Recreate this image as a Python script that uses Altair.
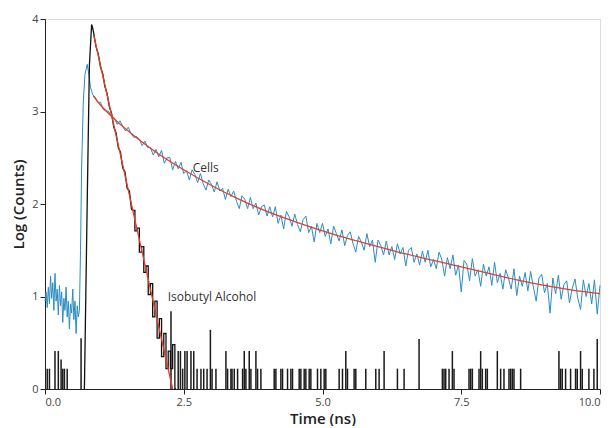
import altair as alt
import pandas as pd

# ---------------- data ----------------
# Cells (blue trace): pre-pulse baseline, rise and peak
cells_t_pre = [0.00, 0.02, 0.04, 0.06, 0.08, 0.10, 0.12, 0.14, 0.16, 0.18, 0.20, 0.22, 0.24, 0.26, 0.28, 0.30,
               0.32, 0.34, 0.36, 0.38, 0.40, 0.42, 0.44, 0.46, 0.48, 0.50, 0.52, 0.54, 0.56, 0.58, 0.60, 0.62,
               0.64, 0.66, 0.69, 0.72, 0.76, 0.79, 0.82, 0.86]
cells_y_pre = [0.95, 1.05, 0.88, 1.10, 0.92, 1.22, 0.98, 1.15, 0.85, 1.25, 0.95, 1.08, 0.80, 1.12, 0.90, 1.05,
               0.72, 0.98, 0.85, 1.10, 0.78, 0.95, 0.65, 0.92, 0.82, 1.08, 0.75, 0.95, 0.60, 0.90, 0.78, 0.85,
               1.50, 2.40, 3.10, 3.40, 3.51, 3.40, 3.26, 3.18]
# Cells decay, sampled every 0.05 ns from 0.90 ns to 10.00 ns
cells_t0 = 0.90
cells_dt = 0.05
cells_y_decay = [
    # 0.90 - 2.00
    3.16, 3.10, 3.10, 3.02, 3.01, 3.00, 2.94, 2.93, 2.86, 2.90, 2.84, 2.79, 2.83, 2.76, 2.72, 2.73,
    2.70, 2.63, 2.68, 2.61, 2.61, 2.53, 2.59,
    # 2.05 - 4.00
    2.51, 2.58, 2.44, 2.50, 2.50, 2.37, 2.46, 2.38, 2.45, 2.33, 2.36, 2.26, 2.37, 2.32, 2.23, 2.33,
    2.22, 2.15, 2.26, 2.21, 2.13, 2.24, 2.14, 2.17, 2.05, 2.16, 2.08, 2.14, 2.03, 1.95, 2.09, 2.05,
    1.95, 2.07, 1.95, 2.01, 1.88, 1.97, 1.99, 1.87,
    # 4.05 - 7.00
    1.97, 1.86, 1.97, 1.79, 1.88, 1.73, 1.92, 1.86, 1.76, 1.89, 1.78, 1.70, 1.83, 1.87, 1.69, 1.76,
    1.59, 1.79, 1.69, 1.79, 1.65, 1.73, 1.57, 1.76, 1.68, 1.60, 1.72, 1.55, 1.66, 1.70, 1.57, 1.48,
    1.65, 1.59, 1.50, 1.68, 1.54, 1.61, 1.37, 1.61, 1.55, 1.45, 1.60, 1.45, 1.54, 1.40, 1.57, 1.46,
    1.53, 1.33, 1.50, 1.53, 1.37, 1.46, 1.34, 1.49, 1.37, 1.50, 1.32, 1.40,
    # 7.05 - 10.00
    1.30, 1.48, 1.40, 1.22, 1.42, 1.30, 1.45, 1.23, 1.34, 1.05, 1.39, 1.35, 1.17, 1.41, 1.22, 1.29,
    1.11, 1.35, 1.22, 1.32, 1.12, 1.37, 1.15, 1.25, 1.08, 1.29, 1.20, 1.08, 1.30, 1.01, 1.22, 1.11,
    1.26, 1.06, 1.27, 1.10, 0.95, 1.20, 1.24, 1.04, 1.14, 0.82, 1.20, 1.03, 1.23, 0.97, 1.13, 1.17,
    0.93, 1.09, 1.19, 0.98, 0.86, 1.18, 1.00, 1.14, 0.92, 1.18, 0.81, 1.12]

# Cells fit (red)
cells_fit_t = [0.87, 1.0, 1.25, 1.5, 1.75, 2.0, 2.5, 3.0, 3.5, 4.0, 4.5, 5.0, 5.5, 6.0, 6.5, 7.0, 7.5, 8.0,
               8.5, 9.0, 9.5, 10.0]
cells_fit_y = [3.17, 3.07, 2.92, 2.79, 2.67, 2.56, 2.37, 2.20, 2.05, 1.92, 1.81, 1.71, 1.62, 1.54, 1.46, 1.39,
               1.32, 1.25, 1.18, 1.12, 1.07, 1.03]

# Isobutyl alcohol (black trace) – pulse and decay
alc_t = [0.71, 0.76, 0.80, 0.84, 0.86, 0.88, 0.92, 0.96, 1.00, 1.04, 1.08, 1.12, 1.16, 1.20, 1.24, 1.28,
         1.32, 1.36, 1.40, 1.44, 1.48, 1.52, 1.56, 1.60, 1.64, 1.68, 1.72, 1.76, 1.80, 1.84, 1.88, 1.92,
         1.96, 2.00, 2.04, 2.08, 2.12, 2.16, 2.20, 2.24, 2.28, 2.32, 2.36]
alc_y = [0.00, 2.00, 3.50, 3.94, 3.90, 3.84, 3.70, 3.62, 3.48, 3.41, 3.27, 3.19, 3.05, 2.98, 2.83, 2.77,
         2.61, 2.56, 2.39, 2.35, 2.17, 2.14, 1.94, 1.93, 1.71, 1.74, 1.48, 1.54, 1.26, 1.33, 1.02, 1.14,
         0.78, 0.95, 0.55, 0.76, 0.35, 0.60, 0.22, 0.41, 0.22, 0.48, 0.00]
alc_step_from = 1.60   # the histogram steps become visible below this time

# Isobutyl alcohol fit (red)
alc_fit_t = [0.88, 2.30]
alc_fit_y = [3.82, 0.00]

# Single-count spikes of the black trace along the baseline
spike_t = [0.04, 0.08, 0.18, 0.24, 0.29, 0.32, 0.35, 0.40, 0.65,
           2.27, 2.40, 2.44, 2.48, 2.52, 2.56, 2.63, 2.68, 2.74, 2.81, 2.86, 2.92, 2.98, 3.01, 3.08, 3.26,
           3.29, 3.35, 3.37, 3.41, 3.47, 3.56, 3.59, 3.62, 3.68, 3.71, 3.80, 3.83, 3.89, 4.13, 4.16, 4.25,
           4.28, 4.37, 4.43, 4.46, 4.58, 4.61, 4.67, 4.70, 4.76, 4.79, 4.91, 4.97, 5.03, 5.06, 5.30, 5.36,
           5.42, 5.45, 5.57, 5.60, 5.78, 5.96, 6.02, 6.11, 6.35, 6.47, 6.74, 7.16, 7.19, 7.22, 7.28, 7.34,
           7.37, 7.64, 7.67, 7.70, 7.82, 7.85, 7.88, 7.94, 7.97, 8.15, 8.21, 8.27, 8.36, 8.39, 8.42, 8.45,
           8.57, 9.26, 9.29, 9.32, 9.38, 9.47, 9.56, 9.59, 9.65, 9.68, 9.80, 9.89, 9.95]
spike_h = [0.22, 0.22, 0.41, 0.41, 0.32, 0.22, 0.22, 0.22, 0.55,
           0.84, 0.41, 0.41, 0.22, 0.41, 0.41, 0.41, 0.41, 0.22, 0.22, 0.22, 0.22, 0.64, 0.22, 0.22, 0.41,
           0.22, 0.22, 0.22, 0.22, 0.22, 0.22, 0.41, 0.22, 0.41, 0.22, 0.41, 0.22, 0.22, 0.22, 0.22, 0.22,
           0.22, 0.22, 0.22, 0.22, 0.22, 0.22, 0.22, 0.22, 0.22, 0.22, 0.22, 0.22, 0.22, 0.22, 0.22, 0.22,
           0.41, 0.22, 0.22, 0.22, 0.22, 0.22, 0.22, 0.41, 0.22, 0.22, 0.54, 0.22, 0.22, 0.22, 0.22, 0.41,
           0.22, 0.22, 0.22, 0.22, 0.22, 0.41, 0.22, 0.22, 0.22, 0.41, 0.22, 0.22, 0.22, 0.22, 0.22, 0.22,
           0.22, 0.41, 0.22, 0.22, 0.22, 0.22, 0.22, 0.22, 0.41, 0.22, 0.22, 0.22, 0.54]

label_text = ["Cells", "Isobutyl Alcohol"]
label_t = [2.66, 2.21]
label_y = [2.39, 1.00]

x_ticks = [0, 2.5, 5, 7.5, 10]
y_ticks = [0, 1, 2, 3, 4]

# ---------------- tables ----------------
cells_t_decay = [round(cells_t0 + i * cells_dt, 2) for i in range(len(cells_y_decay))]
cells_df = pd.DataFrame({"t": cells_t_pre + cells_t_decay, "y": cells_y_pre + cells_y_decay})
cells_fit_df = pd.DataFrame({"t": cells_fit_t, "y": cells_fit_y})
alc_df = pd.DataFrame({"t": alc_t, "y": alc_y})
alc_top_df = alc_df[alc_df["t"] <= alc_step_from]
alc_tail_df = alc_df[alc_df["t"] >= alc_step_from]
alc_fit_df = pd.DataFrame({"t": alc_fit_t, "y": alc_fit_y})
spike_df = pd.DataFrame({"t": spike_t, "h": spike_h, "z": [0.0] * len(spike_t)})
label_df = pd.DataFrame({"text": label_text, "t": label_t, "y": label_y})

FONT = "Open Sans"
x_scale = alt.Scale(domain=[0, 10], nice=False, zero=False)
y_scale = alt.Scale(domain=[0, 4], nice=False)

x_enc = alt.X("t:Q", scale=x_scale,
              axis=alt.Axis(title="Time (ns)", values=x_ticks, format=".1f", grid=False,
                            domainColor="#222", tickColor="#222", tickSize=5,
                            labelFont=FONT, labelFontSize=11, labelColor="#444",
                            titleFont=FONT, titleFontSize=15, titleFontWeight=600,
                            titleColor="#222", titlePadding=4, labelPadding=2))
y_enc = alt.Y("y:Q", scale=y_scale,
              axis=alt.Axis(title="Log (Counts)", values=y_ticks, format="d", grid=False,
                            domainColor="#222", tickColor="#222", tickSize=5,
                            labelFont=FONT, labelFontSize=11, labelColor="#444",
                            titleFont=FONT, titleFontSize=15, titleFontWeight=600,
                            titleColor="#222", titlePadding=5, labelPadding=2))

cells_line = alt.Chart(cells_df).mark_line(color="#2a8dc4", strokeWidth=1.0).encode(
    x=x_enc, y=y_enc, order="t:Q")

spikes = alt.Chart(spike_df).mark_rule(color="#1a1a1a", strokeWidth=1.5).encode(
    x=alt.X("t:Q", scale=x_scale), y=alt.Y("z:Q", scale=y_scale), y2="h:Q")

alc_top = alt.Chart(alc_top_df).mark_line(color="#111111", strokeWidth=1.3).encode(
    x=alt.X("t:Q", scale=x_scale), y=alt.Y("y:Q", scale=y_scale), order="t:Q")

alc_tail = alt.Chart(alc_tail_df).mark_line(color="#111111", strokeWidth=1.3, interpolate="step").encode(
    x=alt.X("t:Q", scale=x_scale), y=alt.Y("y:Q", scale=y_scale), order="t:Q")

cells_fit = alt.Chart(cells_fit_df).mark_line(color="#e0402c", strokeWidth=1.3, interpolate="monotone").encode(
    x=alt.X("t:Q", scale=x_scale), y=alt.Y("y:Q", scale=y_scale))

alc_fit = alt.Chart(alc_fit_df).mark_line(color="#e0402c", strokeWidth=1.3).encode(
    x=alt.X("t:Q", scale=x_scale), y=alt.Y("y:Q", scale=y_scale))

labels = alt.Chart(label_df).mark_text(align="left", baseline="middle", font=FONT, fontSize=12,
                                       color="#333").encode(
    x=alt.X("t:Q", scale=x_scale), y=alt.Y("y:Q", scale=y_scale), text="text:N")

chart = alt.layer(cells_line, spikes, alc_top, alc_tail, cells_fit, alc_fit, labels).properties(
    width=555, height=370,
    padding={"left": 3, "top": 5, "right": 0, "bottom": 0},
).configure_view(stroke=None).configure(background="white")

chart.save("out.html", embed_options={"renderer": "svg", "actions": False})
